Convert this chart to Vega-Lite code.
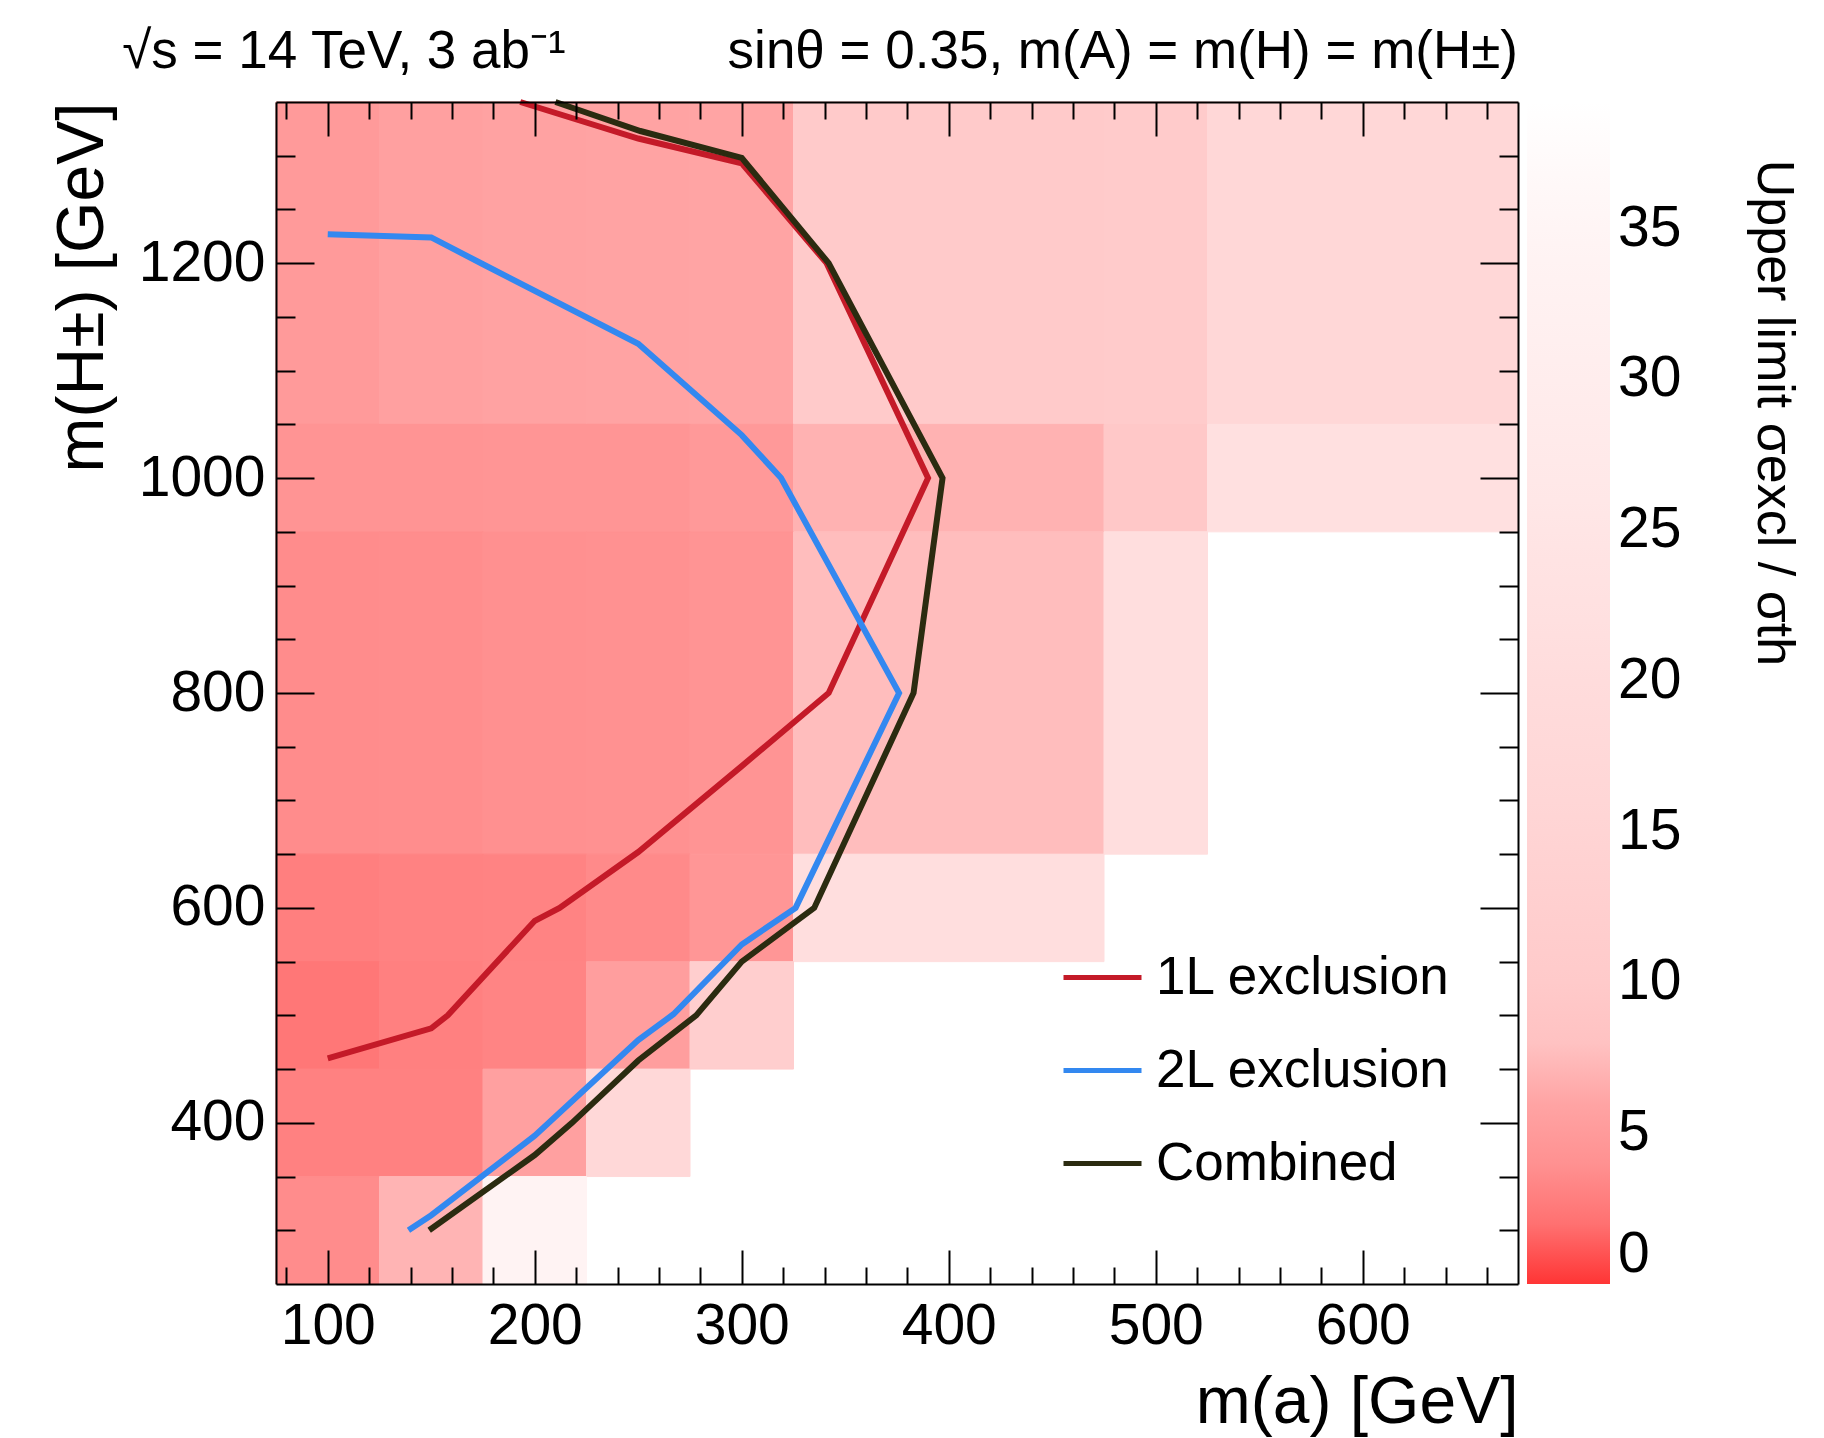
{
  "$schema": "https://vega.github.io/schema/vega-lite/v6.json",
  "width": 1242,
  "height": 1182,
  "autosize": {"type": "none"},
  "padding": {"left": 276, "top": 102, "right": 306, "bottom": 154},
  "background": "white",
  "title": {
    "text": "\u221as = 14 TeV, 3 ab\u207b\u00b9\u00a0\u00a0\u00a0\u00a0\u00a0\u00a0\u00a0\u00a0\u00a0\u00a0\u00a0sin\u03b8 = 0.35, m(A) = m(H) = m(H\u00b1)",
    "anchor": "end",
    "frame": "group",
    "font": "Liberation Sans",
    "fontSize": 53,
    "fontWeight": "normal",
    "color": "black",
    "baseline": "alphabetic",
    "offset": -31
  },
  "config": {
    "view": {"stroke": null},
    "axis": {
      "domainColor": "black",
      "domainWidth": 2,
      "tickColor": "black",
      "tickWidth": 2,
      "grid": false,
      "labelColor": "black",
      "titleColor": "black",
      "labelFont": "Liberation Sans",
      "titleFont": "Liberation Sans",
      "titleFontWeight": "normal",
      "labelOverlap": false,
      "labelFlush": false
    }
  },
  "layer": [
    {
      "data": {
        "values": [
          {"x0": 75, "x1": 125, "y0": 1050, "y1": 1350, "v": 4.8},
          {"x0": 125, "x1": 175, "y0": 1050, "y1": 1350, "v": 5.5},
          {"x0": 175, "x1": 225, "y0": 1050, "y1": 1350, "v": 5.75},
          {"x0": 225, "x1": 275, "y0": 1050, "y1": 1350, "v": 5.9},
          {"x0": 275, "x1": 325, "y0": 1050, "y1": 1350, "v": 6.0},
          {"x0": 325, "x1": 475, "y0": 1050, "y1": 1350, "v": 10},
          {"x0": 475, "x1": 525, "y0": 1050, "y1": 1350, "v": 10.5},
          {"x0": 525, "x1": 675, "y0": 1050, "y1": 1350, "v": 16.9},
          {"x0": 75, "x1": 125, "y0": 950, "y1": 1050, "v": 4.3},
          {"x0": 125, "x1": 175, "y0": 950, "y1": 1050, "v": 4.3},
          {"x0": 175, "x1": 225, "y0": 950, "y1": 1050, "v": 4.4},
          {"x0": 225, "x1": 275, "y0": 950, "y1": 1050, "v": 4.4},
          {"x0": 275, "x1": 325, "y0": 950, "y1": 1050, "v": 4.75},
          {"x0": 325, "x1": 475, "y0": 950, "y1": 1050, "v": 7.1},
          {"x0": 475, "x1": 525, "y0": 950, "y1": 1050, "v": 9.5},
          {"x0": 525, "x1": 675, "y0": 950, "y1": 1050, "v": 22.2},
          {"x0": 75, "x1": 125, "y0": 650, "y1": 950, "v": 3.6},
          {"x0": 125, "x1": 175, "y0": 650, "y1": 950, "v": 3.7},
          {"x0": 175, "x1": 225, "y0": 650, "y1": 950, "v": 3.9},
          {"x0": 225, "x1": 275, "y0": 650, "y1": 950, "v": 4.0},
          {"x0": 275, "x1": 325, "y0": 650, "y1": 950, "v": 4.3},
          {"x0": 325, "x1": 475, "y0": 650, "y1": 950, "v": 7.7},
          {"x0": 475, "x1": 525, "y0": 650, "y1": 950, "v": 21},
          {"x0": 75, "x1": 125, "y0": 550, "y1": 650, "v": 2.45},
          {"x0": 125, "x1": 175, "y0": 550, "y1": 650, "v": 2.7},
          {"x0": 175, "x1": 225, "y0": 550, "y1": 650, "v": 2.8},
          {"x0": 225, "x1": 275, "y0": 550, "y1": 650, "v": 3.4},
          {"x0": 275, "x1": 325, "y0": 550, "y1": 650, "v": 4.5},
          {"x0": 325, "x1": 475, "y0": 550, "y1": 650, "v": 21},
          {"x0": 75, "x1": 125, "y0": 450, "y1": 550, "v": 2.2},
          {"x0": 125, "x1": 175, "y0": 450, "y1": 550, "v": 2.5},
          {"x0": 175, "x1": 225, "y0": 450, "y1": 550, "v": 2.85},
          {"x0": 225, "x1": 275, "y0": 450, "y1": 550, "v": 5.25},
          {"x0": 275, "x1": 325, "y0": 450, "y1": 550, "v": 12},
          {"x0": 75, "x1": 125, "y0": 350, "y1": 450, "v": 2.6},
          {"x0": 125, "x1": 175, "y0": 350, "y1": 450, "v": 2.6},
          {"x0": 175, "x1": 225, "y0": 350, "y1": 450, "v": 5.5},
          {"x0": 225, "x1": 275, "y0": 350, "y1": 450, "v": 17.5},
          {"x0": 75, "x1": 125, "y0": 250, "y1": 350, "v": 3.6},
          {"x0": 125, "x1": 175, "y0": 250, "y1": 350, "v": 7.2},
          {"x0": 175, "x1": 225, "y0": 250, "y1": 350, "v": 33.7}
        ]
      },
      "mark": {"type": "rect", "strokeWidth": 1},
      "encoding": {
        "x": {
          "field": "x0", "type": "quantitative",
          "scale": {"domain": [75, 675], "nice": false, "zero": false},
          "axis": {
            "orient": "bottom",
            "zindex": 1,
            "values": [80, 100, 120, 140, 160, 180, 200, 220, 240, 260, 280, 300, 320, 340, 360, 380, 400, 420, 440, 460, 480, 500, 520, 540, 560, 580, 600, 620, 640, 660],
            "tickSize": {"condition": {"test": "datum.value % 100 === 0", "value": -34}, "value": -17},
            "format": "d",
            "labelExpr": "datum.value % 100 === 0 ? datum.label : ''",
            "labelFontSize": 57,
            "labelPadding": 48,
            "title": "m(a) [GeV]",
            "titleFontSize": 66,
            "titleAnchor": "end",
            "titleAlign": "right",
            "titleX": 1242,
            "titleY": 138,
            "titleBaseline": "alphabetic"
          }
        },
        "x2": {"field": "x1"},
        "y": {
          "field": "y0", "type": "quantitative",
          "scale": {"domain": [250, 1350], "nice": false, "zero": false},
          "axis": {
            "orient": "left",
            "zindex": 1,
            "values": [300, 350, 400, 450, 500, 550, 600, 650, 700, 750, 800, 850, 900, 950, 1000, 1050, 1100, 1150, 1200, 1250, 1300],
            "tickSize": {"condition": {"test": "datum.value % 200 === 0", "value": -38}, "value": -19},
            "format": "d",
            "labelExpr": "datum.value % 200 === 0 ? datum.label : ''",
            "labelFontSize": 57,
            "labelPadding": 49,
            "title": "m(H\u00b1) [GeV]",
            "titleFontSize": 66,
            "titleAngle": -90,
            "titleAnchor": "end",
            "titleAlign": "right",
            "titleX": -174,
            "titleY": 0,
            "titleBaseline": "alphabetic"
          }
        },
        "y2": {"field": "y1"},
        "color": {
          "field": "v", "type": "quantitative",
          "scale": {
            "type": "linear",
            "domain": [0, 2.5, 5, 6.5, 8, 10, 15, 20, 25, 30, 35, 39.2],
            "range": ["#ff3535", "#ff8080", "#ff9c9c", "#ffa8a8", "#ffc2c2", "#ffcaca", "#ffd4d4", "#ffdcdc", "#ffe5e5", "#ffeded", "#fff5f5", "#ffffff"],
            "interpolate": "rgb"
          },
          "legend": {
            "orient": "right",
            "direction": "vertical",
            "offset": 8,
            "padding": 0,
            "gradientLength": 1182,
            "gradientThickness": 83,
            "gradientStrokeWidth": 0,
            "values": [0, 5, 10, 15, 20, 25, 30, 35],
            "labelFont": "Liberation Sans",
            "labelFontSize": 57,
            "labelColor": "black",
            "labelOffset": 8,
            "labelBaseline": "middle",
            "labelOverlap": false,
            "title": "\u200b\u00a0\u00a0\u00a0\u00a0Upper limit \u03c3excl / \u03c3th",
            "titleOrient": "right",
            "titleAnchor": "end",
            "titleLimit": 2000,
            "titleFont": "Liberation Sans",
            "titleFontSize": 52,
            "titleFontWeight": "normal",
            "titleColor": "black",
            "titlePadding": 66
          }
        },
        "stroke": {
          "field": "v", "type": "quantitative",
          "scale": {
            "type": "linear",
            "domain": [0, 2.5, 5, 6.5, 8, 10, 15, 20, 25, 30, 35, 39.2],
            "range": ["#ff3535", "#ff8080", "#ff9c9c", "#ffa8a8", "#ffc2c2", "#ffcaca", "#ffd4d4", "#ffdcdc", "#ffe5e5", "#ffeded", "#fff5f5", "#ffffff"],
            "interpolate": "rgb"
          },
          "legend": null
        }
      }
    },
    {
      "data": {
        "values": [
          {"s": "1L exclusion", "i": 1, "x": 100, "y": 460},
          {"s": "1L exclusion", "i": 2, "x": 150, "y": 488},
          {"s": "1L exclusion", "i": 3, "x": 158, "y": 500},
          {"s": "1L exclusion", "i": 4, "x": 200, "y": 588},
          {"s": "1L exclusion", "i": 5, "x": 212, "y": 600},
          {"s": "1L exclusion", "i": 6, "x": 250, "y": 652},
          {"s": "1L exclusion", "i": 7, "x": 300, "y": 732},
          {"s": "1L exclusion", "i": 8, "x": 342, "y": 800},
          {"s": "1L exclusion", "i": 9, "x": 390, "y": 1000},
          {"s": "1L exclusion", "i": 10, "x": 341, "y": 1200},
          {"s": "1L exclusion", "i": 11, "x": 300, "y": 1293},
          {"s": "1L exclusion", "i": 12, "x": 250, "y": 1316},
          {"s": "1L exclusion", "i": 13, "x": 193, "y": 1350},
          {"s": "2L exclusion", "i": 1, "x": 139, "y": 300},
          {"s": "2L exclusion", "i": 2, "x": 150, "y": 314},
          {"s": "2L exclusion", "i": 3, "x": 200, "y": 388},
          {"s": "2L exclusion", "i": 4, "x": 250, "y": 477},
          {"s": "2L exclusion", "i": 5, "x": 267, "y": 501},
          {"s": "2L exclusion", "i": 6, "x": 300, "y": 566},
          {"s": "2L exclusion", "i": 7, "x": 326, "y": 600},
          {"s": "2L exclusion", "i": 8, "x": 376, "y": 800},
          {"s": "2L exclusion", "i": 9, "x": 319, "y": 1000},
          {"s": "2L exclusion", "i": 10, "x": 300, "y": 1040},
          {"s": "2L exclusion", "i": 11, "x": 250, "y": 1125},
          {"s": "2L exclusion", "i": 12, "x": 175, "y": 1199},
          {"s": "2L exclusion", "i": 13, "x": 150, "y": 1224},
          {"s": "2L exclusion", "i": 14, "x": 100, "y": 1227},
          {"s": "Combined", "i": 1, "x": 149, "y": 300},
          {"s": "Combined", "i": 2, "x": 200, "y": 370},
          {"s": "Combined", "i": 3, "x": 218, "y": 400},
          {"s": "Combined", "i": 4, "x": 250, "y": 458},
          {"s": "Combined", "i": 5, "x": 278, "y": 500},
          {"s": "Combined", "i": 6, "x": 300, "y": 550},
          {"s": "Combined", "i": 7, "x": 335, "y": 600},
          {"s": "Combined", "i": 8, "x": 383, "y": 800},
          {"s": "Combined", "i": 9, "x": 397, "y": 1000},
          {"s": "Combined", "i": 10, "x": 342, "y": 1200},
          {"s": "Combined", "i": 11, "x": 300, "y": 1298},
          {"s": "Combined", "i": 12, "x": 251, "y": 1323},
          {"s": "Combined", "i": 13, "x": 210, "y": 1350}
        ]
      },
      "mark": {"type": "line", "strokeWidth": 6},
      "encoding": {
        "x": {
          "field": "x", "type": "quantitative",
          "scale": {"domain": [75, 675], "nice": false, "zero": false},
          "axis": {
            "orient": "top",
            "zindex": 1,
            "values": [80, 100, 120, 140, 160, 180, 200, 220, 240, 260, 280, 300, 320, 340, 360, 380, 400, 420, 440, 460, 480, 500, 520, 540, 560, 580, 600, 620, 640, 660],
            "tickSize": {"condition": {"test": "datum.value % 100 === 0", "value": -34}, "value": -17},
            "labels": false,
            "title": null
          }
        },
        "y": {
          "field": "y", "type": "quantitative",
          "scale": {"domain": [250, 1350], "nice": false, "zero": false},
          "axis": {
            "orient": "right",
            "zindex": 1,
            "values": [300, 350, 400, 450, 500, 550, 600, 650, 700, 750, 800, 850, 900, 950, 1000, 1050, 1100, 1150, 1200, 1250, 1300],
            "tickSize": {"condition": {"test": "datum.value % 200 === 0", "value": -38}, "value": -19},
            "labels": false,
            "title": null
          }
        },
        "order": {"field": "i", "type": "quantitative"},
        "stroke": {
          "field": "s", "type": "nominal",
          "scale": {"domain": ["1L exclusion", "2L exclusion", "Combined"], "range": ["#c41a28", "#3388f0", "#2b2b10"]},
          "legend": {
            "orient": "none",
            "legendX": 785,
            "legendY": 834,
            "padding": 0,
            "title": null,
            "symbolType": "stroke",
            "symbolSize": 6084,
            "symbolStrokeWidth": 5,
            "labelFont": "Liberation Sans",
            "labelFontSize": 53,
            "labelColor": "black",
            "labelOffset": 12,
            "labelLimit": 1000,
            "rowPadding": 24
          }
        }
      }
    }
  ],
  "resolve": {"axis": {"x": "independent", "y": "independent"}, "scale": {"stroke": "independent"}}
}
